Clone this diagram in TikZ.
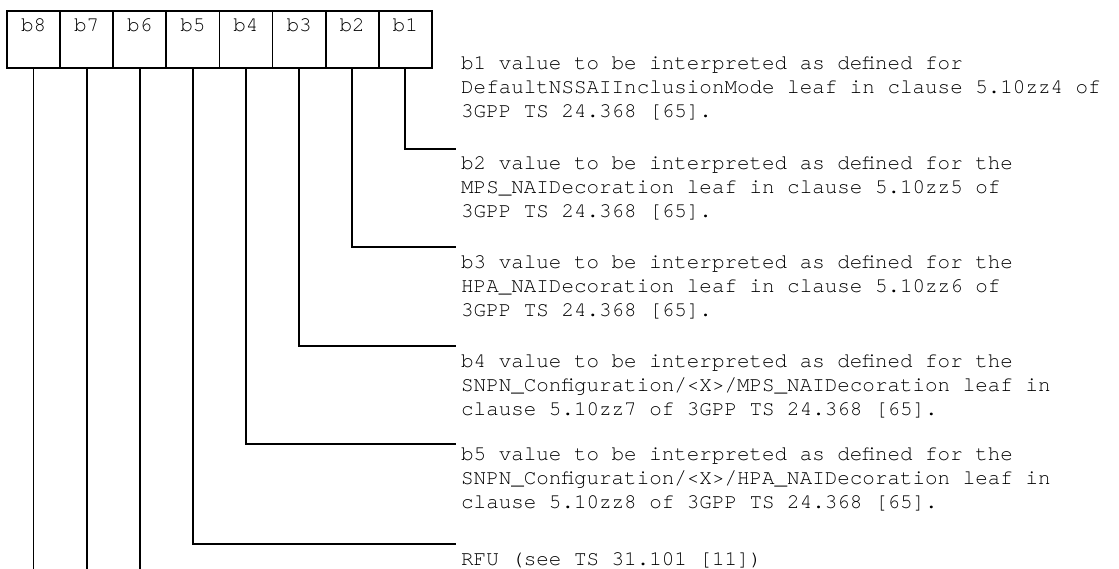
\documentclass[tikz,border=0pt]{standalone}
\usepackage{fontspec}
\setmainfont{TeX Gyre Cursor}
\begin{document}
\begin{tikzpicture}[x=1pt,y=-1pt,
  cell/.style={draw,line width=1.8pt,minimum width=53.1pt,minimum height=57pt,inner sep=0pt,
    text height=12pt,text depth=28pt,font=\fontsize{20.9}{24}\selectfont},
  desc/.style={anchor=base west,align=left,inner sep=0pt,font=\fontsize{20.9}{24}\selectfont},
  conn/.style={line width=1.8pt}]
\useasboundingbox (0,0) rectangle (1119,568);
\foreach \i/\n in {0/8,1/7,2/6,3/5,4/4,5/3,6/2,7/1}{
  \node[cell] (c\n) at ({7+53.1*(\i+0.5)},39.5) {b\n};
}
\node[desc] (t1) at (461,117) {b1 value to be interpreted as defined for\\DefaultNSSAIInclusionMode leaf in clause 5.10zz4 of\\3GPP TS 24.368 [65].};
\node[desc] (t2) at (461,217) {b2 value to be interpreted as defined for the\\MPS\_NAIDecoration leaf in clause 5.10zz5 of\\3GPP TS 24.368 [65].};
\node[desc] (t3) at (461,316) {b3 value to be interpreted as defined for the\\HPA\_NAIDecoration leaf in clause 5.10zz6 of\\3GPP TS 24.368 [65].};
\node[desc] (t4) at (461,415) {b4 value to be interpreted as defined for the\\SNPN\_Configuration/<X>/MPS\_NAIDecoration leaf in\\clause 5.10zz7 of 3GPP TS 24.368 [65].};
\node[desc] (t5) at (461,508) {b5 value to be interpreted as defined for the\\SNPN\_Configuration/<X>/HPA\_NAIDecoration leaf in\\clause 5.10zz8 of 3GPP TS 24.368 [65].};
\node[desc] (t6) at (461,565) {RFU (see TS 31.101 [11])};
\coordinate (e1) at (456,149);
\coordinate (e2) at (456,247);
\coordinate (e3) at (456,346);
\coordinate (e4) at (456,444);
\coordinate (e5) at (456,544);
\coordinate (bot) at (0,569);
\foreach \n in {1,...,5}{
  \draw[conn] (c\n.south) |- (e\n);
}
\foreach \n in {6,7,8}{
  \draw[conn] (c\n.south) -- (c\n.south |- bot);
}
\end{tikzpicture}
\end{document}
